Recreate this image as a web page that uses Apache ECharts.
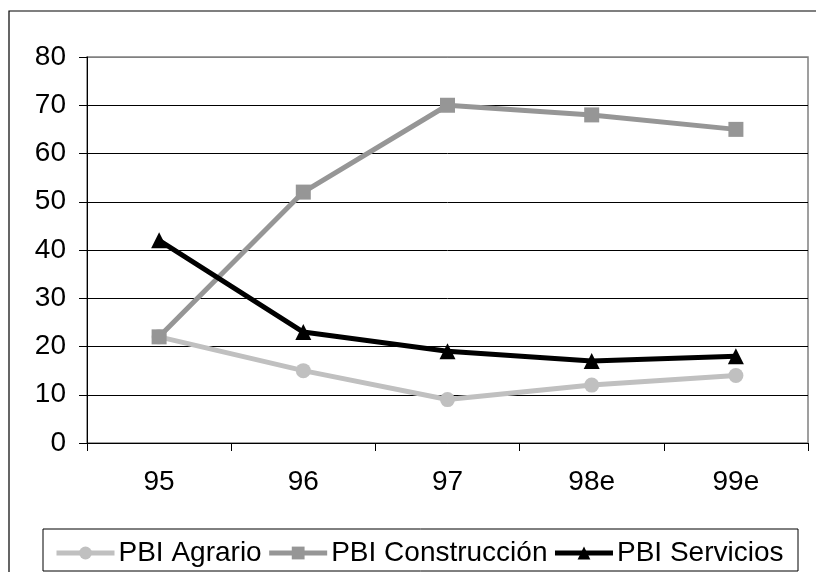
<!DOCTYPE html>
<html>
<head>
<meta charset="utf-8">
<script src="https://cdn.jsdelivr.net/npm/echarts@6/dist/echarts.min.js"></script>
<style>
  html, body { margin: 0; padding: 0; background: #fff; }
  #chart { width: 816px; height: 572px; }
</style>
</head>
<body>
<div id="chart"></div>
<script>
// Years (e = estimated)
const categories = ['95', '96', '97', '98e', '99e'];

// Series values
const pbiAgrario = [22, 15, 9, 12, 14];
const pbiConstruccion = [22, 52, 70, 68, 65];
const pbiServicios = [42, 23, 19, 17, 18];

// Value axis ticks
const yMin = 0;
const yMax = 80;
const yStep = 10;

const FONT = '"Liberation Sans", Arial, sans-serif';

const chart = echarts.init(document.getElementById('chart'), null, { renderer: 'canvas' });

const splitColors = [];
for (let v = yMin; v <= yMax; v += yStep) splitColors.push(v === yMax ? '#808080' : '#000');

chart.setOption({
  animation: false,
  backgroundColor: '#fff',
  textStyle: { fontFamily: FONT },
  graphic: [
    {
      type: 'rect',
      shape: { x: 9, y: 11, width: 840, height: 600 },
      style: { fill: 'none', stroke: '#000', lineWidth: 1.2 },
      z: 0
    },
    {
      type: 'rect',
      shape: { x: 43, y: 529, width: 755, height: 42 },
      style: { fill: 'none', stroke: '#000', lineWidth: 1 },
      z: 0
    }
  ],
  grid: {
    left: 87, right: 8, top: 57, bottom: 129,
    show: true,
    borderColor: '#808080',
    borderWidth: 1.5
  },
  legend: {
    left: 49,
    top: 534,
    itemWidth: 58,
    itemHeight: 16,
    itemGap: 5,
    lineStyle: { width: 5 },
    textStyle: { fontSize: 28, color: '#000', fontFamily: FONT, padding: [0, 0, 0, -1] },
    data: ['PBI Agrario', 'PBI Construcción', 'PBI Servicios']
  },
  xAxis: {
    type: 'category',
    data: categories,
    boundaryGap: true,
    axisLine: { lineStyle: { color: '#000', width: 1 } },
    axisTick: { show: true, length: 8, lineStyle: { color: '#000' } },
    axisLabel: { fontSize: 28, color: '#000', margin: 25, fontFamily: FONT },
    splitLine: { show: false }
  },
  yAxis: {
    type: 'value',
    min: yMin, max: yMax, interval: yStep,
    axisLine: { show: true, lineStyle: { color: '#000', width: 1 } },
    axisTick: { show: true, length: 8, lineStyle: { color: '#000' } },
    axisLabel: { fontSize: 28, color: '#000', margin: 21, fontFamily: FONT },
    splitLine: { show: true, lineStyle: { color: splitColors, width: 1 } }
  },
  series: [
    {
      name: 'PBI Agrario',
      type: 'line',
      data: pbiAgrario,
      symbol: 'circle',
      symbolSize: 15,
      lineStyle: { color: '#c0c0c0', width: 5 },
      itemStyle: { color: '#c0c0c0' },
      z: 3
    },
    {
      name: 'PBI Construcción',
      type: 'line',
      data: pbiConstruccion,
      symbol: 'rect',
      symbolSize: 15,
      lineStyle: { color: '#969696', width: 5 },
      itemStyle: { color: '#969696' },
      z: 4
    },
    {
      name: 'PBI Servicios',
      type: 'line',
      data: pbiServicios,
      symbol: 'triangle',
      symbolSize: 16,
      lineStyle: { color: '#000', width: 5 },
      itemStyle: { color: '#000' },
      z: 5
    }
  ]
});
</script>
</body>
</html>
